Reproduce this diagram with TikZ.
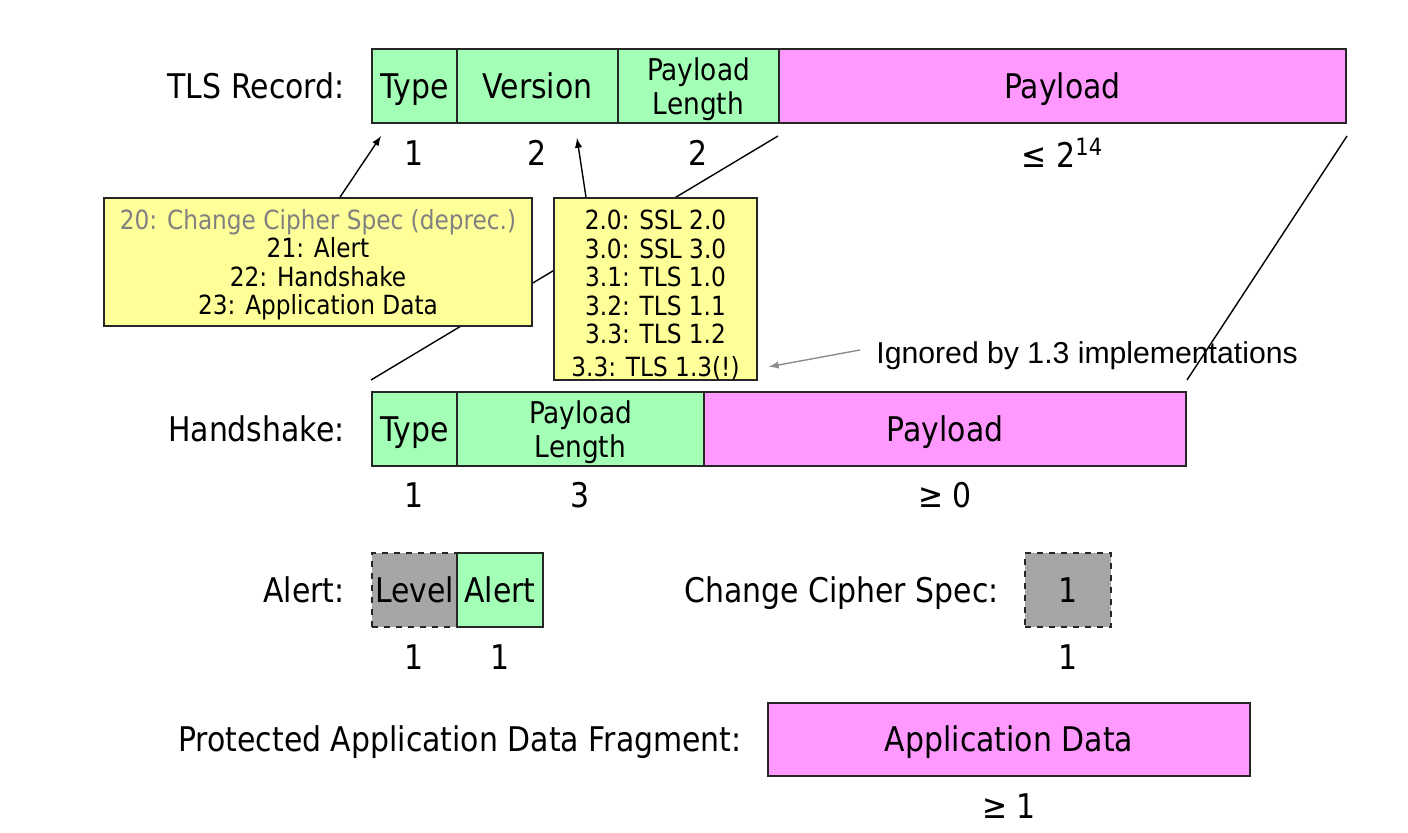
\documentclass[tikz,border=0pt]{standalone}
\usepackage{fontspec}
\setmainfont{DejaVu Sans}[FakeStretch=0.88]
\newfontfamily\arialfont{Liberation Sans}
\usetikzlibrary{positioning}
\definecolor{hdrgreen}{HTML}{A3FFB6}
\definecolor{paypink}{HTML}{FF99FF}
\definecolor{optgray}{HTML}{A6A6A6}
\definecolor{noteyellow}{HTML}{FFFF99}
\definecolor{notegray}{HTML}{808080}

\begin{document}
\begin{tikzpicture}[x=0.5pt,y=-0.5pt,
	field/.style={draw=black!85,line width=1pt,minimum height=37pt,inner sep=0pt,text height=12.4pt,text depth=0pt,font=\fontsize{17pt}{20pt}\selectfont},
	hdr/.style={field,fill=hdrgreen},
	pay/.style={field,fill=paypink},
	opt/.style={field,fill=optgray,dashed},
	two/.style={align=center,text height={},text depth=0pt,font=\fontsize{15pt}{17pt}\selectfont},
	lbl/.style={inner sep=0pt,text height=12.4pt,text depth=0pt,font=\fontsize{17pt}{20pt}\selectfont},
	num/.style={inner sep=0pt,font=\fontsize{17pt}{20pt}\selectfont},
	note/.style={draw=black!85,line width=0.8pt,fill=noteyellow,inner sep=0pt,align=center,text depth=0pt,font=\fontsize{13.2pt}{14.3pt}\selectfont},
	arr/.style={-latex,line width=0.7pt},
	grayarr/.style={-latex,line width=0.7pt,draw=black!45},
	link/.style={line width=0.7pt}
	]
	\useasboundingbox (0,0) rectangle (1408,833);

	\node[hdr,minimum width=42.5pt] (rtype) at (414.5,86) {Type};
	\node[hdr,minimum width=80.5pt] (rver) at (537.5,86) {Version};
	\node[hdr,two,minimum width=80.5pt] (rlen) at (698.5,86) {Payload\\Length};
	\node[pay,minimum width=283.5pt] (rpay) at (1062.5,86) {Payload};
	\node[lbl,left=13pt of rtype] {TLS Record:};
	\node[num] at ([yshift=-14.5pt]rtype.south) {1};
	\node[num] at ([yshift=-14.5pt]rver.south) {2};
	\node[num] at ([yshift=-14.5pt]rlen.south) {2};
	\node[num] at ([yshift=-14.5pt]rpay.south) {≤ 2\textsuperscript{14}};

	\node[hdr,minimum width=42.5pt] (htype) at (414.5,429) {Type};
	\node[hdr,two,minimum width=123.5pt] (hlen) at (580.5,429) {Payload\\Length};
	\node[pay,minimum width=241pt] (hpay) at (945,429) {Payload};
	\node[lbl,left=13pt of htype] {Handshake:};
	\node[num] at ([yshift=-14pt]htype.south) {1};
	\node[num] at ([yshift=-14pt]hlen.south) {3};
	\node[num] at ([yshift=-14pt]hpay.south) {≥ 0};

	\node[opt,minimum width=42.5pt] (alevel) at (414.5,590) {Level};
	\node[hdr,minimum width=43pt] (aalert) at (500,590) {Alert};
	\node[lbl,left=13pt of alevel] {Alert:};
	\node[num] at ([yshift=-14.5pt]alevel.south) {1};
	\node[num] at ([yshift=-14.5pt]aalert.south) {1};

	\node[opt,minimum width=43pt] (ccs) at (1068,590) {1};
	\node[lbl,left=12.5pt of ccs] {Change Cipher Spec:};
	\node[num] at ([yshift=-14.5pt]ccs.south) {1};

	\node[pay,minimum width=241pt,minimum height=36.5pt] (app) at (1009,739.5) {Application Data};
	\node[lbl,left=12.5pt of app] {Protected Application Data Fragment:};
	\node[num] at ([yshift=-14.5pt]app.south) {≥ 1};

	\draw[link] ([yshift=-6pt]rpay.south west) -- ([yshift=5.5pt]htype.north west);
	\draw[link] ([yshift=-6pt]rpay.south east) -- ([yshift=5.5pt]hpay.north east);

	\node[note,minimum width=214pt,minimum height=64pt] (ctype) at (318,262) {\textcolor{notegray}{20: Change Cipher Spec (deprec.)}\\21: Alert\\22: Handshake\\23: Application Data};
	\node[note,minimum width=101.5pt,minimum height=91pt] (cver) at (655.5,289) {\rule{0pt}{14pt}2.0: SSL 2.0\\3.0: SSL 3.0\\3.1: TLS 1.0\\3.2: TLS 1.1\\3.3: TLS 1.2\\[2pt]3.3: TLS 1.3(!)};
	\draw[arr] ([xshift=11pt]ctype.north) -- ([shift={(5pt,-6pt)}]rtype.south west);
	\draw[arr] ([xshift=-34.75pt]cver.north) -- ([shift={(19.75pt,-7pt)}]rver.south);

	\node[anchor=west,inner sep=0pt,font=\arialfont\fontsize{15.1pt}{18pt}\selectfont] (ign) at (876,356) {Ignored by 1.3 implementations};
	\draw[grayarr] ([shift={(-8pt,3pt)}]ign.west) -- ([shift={(5.5pt,7pt)}]cver.south east);
\end{tikzpicture}
\end{document}
